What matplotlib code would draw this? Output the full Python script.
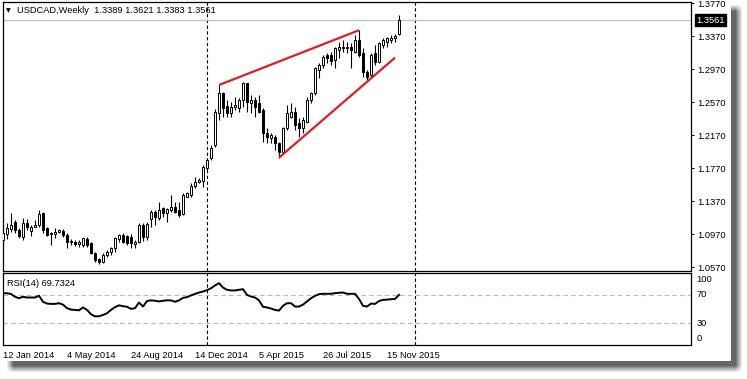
import matplotlib
matplotlib.use("Agg")
import matplotlib.pyplot as plt
import numpy as np
import pandas as pd
from matplotlib.transforms import blended_transform_factory

# ---------------- data ----------------
symbol_title = "USDCAD,Weekly  1.3389 1.3621 1.3383 1.3561"
rsi_title = "RSI(14) 69.7324"
start_week = "2014-01-12"

opens = [1.0897, 1.0975, 1.1025, 1.1120, 1.1018, 1.0938, 1.1107, 1.1010, 1.1060, 1.1079,
         1.1230, 1.1039, 1.0964, 1.0970, 1.0990, 1.1010, 1.0958, 1.0890, 1.0870, 1.0845,
         1.0837, 1.0905, 1.0864, 1.0736, 1.0663, 1.0634, 1.0715, 1.0750, 1.0797, 1.0905,
         1.0958, 1.0950, 1.0937, 1.0850, 1.0877, 1.1080, 1.0930, 1.1152, 1.1240, 1.1170,
         1.1281, 1.1220, 1.1261, 1.1301, 1.1261, 1.1215, 1.1422, 1.1443, 1.1552, 1.1604,
         1.1616, 1.1770, 1.1887, 1.2048, 1.2433, 1.2675, 1.2521, 1.2433, 1.2513, 1.2493,
         1.2594, 1.2796, 1.2554, 1.2594, 1.2554, 1.2473, 1.2190, 1.2130, 1.2150, 1.2069,
         1.1968, 1.2251, 1.2392, 1.2452, 1.2311, 1.2251, 1.2332, 1.2594, 1.2675, 1.2958,
         1.3018, 1.3140, 1.3140, 1.3079, 1.3200, 1.3240, 1.3221, 1.3240, 1.3180, 1.3321,
         1.3160, 1.2937, 1.2897, 1.3160, 1.3059, 1.3261, 1.3301, 1.3321, 1.3350, 1.3389]
highs = [1.0990, 1.1107, 1.1220, 1.1140, 1.1039, 1.1160, 1.1148, 1.1080, 1.1140, 1.1261,
         1.1240, 1.1050, 1.1000, 1.1043, 1.1030, 1.1030, 1.0979, 1.0905, 1.0897, 1.0897,
         1.0925, 1.0930, 1.0877, 1.0755, 1.0675, 1.0736, 1.0776, 1.0810, 1.0937, 1.0966,
         1.0982, 1.0958, 1.0966, 1.0897, 1.1100, 1.1100, 1.1110, 1.1261, 1.1261, 1.1362,
         1.1301, 1.1281, 1.1443, 1.1362, 1.1362, 1.1463, 1.1483, 1.1585, 1.1657, 1.1645,
         1.1806, 1.1887, 1.2048, 1.2480, 1.2776, 1.2695, 1.2594, 1.2574, 1.2634, 1.2614,
         1.2816, 1.2804, 1.2655, 1.2634, 1.2655, 1.2493, 1.2251, 1.2190, 1.2170, 1.2089,
         1.2271, 1.2533, 1.2554, 1.2513, 1.2372, 1.2392, 1.2634, 1.2695, 1.2998, 1.3039,
         1.3140, 1.3160, 1.3180, 1.3240, 1.3301, 1.3321, 1.3301, 1.3281, 1.3382, 1.3443,
         1.3221, 1.2958, 1.3160, 1.3261, 1.3301, 1.3342, 1.3362, 1.3382, 1.3391, 1.3621]
lows = [1.0816, 1.0905, 1.1000, 1.0979, 1.0918, 1.0897, 1.1018, 1.0946, 1.1050, 1.1059,
        1.0979, 1.0946, 1.0837, 1.0922, 1.0979, 1.0937, 1.0797, 1.0837, 1.0826, 1.0808,
        1.0816, 1.0816, 1.0728, 1.0634, 1.0606, 1.0614, 1.0695, 1.0720, 1.0755, 1.0877,
        1.0860, 1.0837, 1.0797, 1.0797, 1.0858, 1.0880, 1.0900, 1.1059, 1.1079, 1.1140,
        1.1180, 1.1119, 1.1240, 1.1220, 1.1180, 1.1200, 1.1420, 1.1422, 1.1524, 1.1585,
        1.1543, 1.1746, 1.1867, 1.2020, 1.2352, 1.2392, 1.2392, 1.2392, 1.2473, 1.2452,
        1.2513, 1.2452, 1.2433, 1.2392, 1.2433, 1.2089, 1.2069, 1.2069, 1.1988, 1.1887,
        1.1947, 1.2230, 1.2372, 1.2230, 1.2150, 1.2190, 1.2311, 1.2554, 1.2655, 1.2857,
        1.2978, 1.3039, 1.3018, 1.2978, 1.3099, 1.3180, 1.3160, 1.2978, 1.3160, 1.3119,
        1.2877, 1.2837, 1.2857, 1.3018, 1.3039, 1.3221, 1.3240, 1.3281, 1.3301, 1.3383]
closes = [1.0978, 1.1040, 1.1075, 1.1018, 1.0946, 1.1099, 1.1059, 1.1060, 1.1080, 1.1212,
          1.1018, 1.0958, 1.0988, 1.0999, 1.1018, 1.0958, 1.0877, 1.0870, 1.0850, 1.0877,
          1.0918, 1.0837, 1.0736, 1.0655, 1.0634, 1.0715, 1.0755, 1.0797, 1.0918, 1.0958,
          1.0877, 1.0858, 1.0858, 1.0870, 1.1080, 1.0930, 1.1090, 1.1240, 1.1180, 1.1261,
          1.1220, 1.1270, 1.1301, 1.1240, 1.1200, 1.1443, 1.1463, 1.1552, 1.1604, 1.1630,
          1.1786, 1.1867, 1.2008, 1.2452, 1.2675, 1.2493, 1.2433, 1.2513, 1.2533, 1.2594,
          1.2796, 1.2574, 1.2594, 1.2513, 1.2452, 1.2190, 1.2150, 1.2170, 1.2069, 1.1968,
          1.2251, 1.2433, 1.2452, 1.2291, 1.2251, 1.2352, 1.2594, 1.2675, 1.2978, 1.3018,
          1.3119, 1.3099, 1.3067, 1.3221, 1.3240, 1.3221, 1.3240, 1.3200, 1.3321, 1.3140,
          1.2937, 1.2877, 1.3140, 1.3059, 1.3281, 1.3321, 1.3350, 1.3350, 1.3374, 1.3561]
rsi = [72, 72, 71, 67, 65, 67, 66, 66, 66, 68.5,
       60, 57.5, 57, 57, 58, 56, 51, 49, 48.6, 48,
       52, 48.6, 42.5, 39.6, 39.6, 41.5, 43.9, 48.6, 52.4, 55,
       53.8, 53, 50, 51, 59, 53.3, 61, 62, 61.5, 60.4,
       61.5, 62, 62, 60, 62, 65.5, 66.5, 69, 71, 73,
       74.4, 76.3, 79, 82.9, 86.2, 80, 76.8, 75.9, 75.9, 76.8,
       77.7, 69.7, 67.3, 66, 62, 53, 52, 50.5, 48.6, 47.6,
       54.3, 58, 58, 53.3, 53.3, 56, 60.4, 65, 68.3, 70.7,
       71.2, 71.2, 71.2, 72.1, 72.6, 73, 71.2, 71.2, 71.2, 64,
       54.3, 53.3, 57.5, 57, 61, 62.7, 63, 63.6, 64, 69.7324]

price_ticks = [1.0570, 1.0970, 1.1370, 1.1770, 1.2170, 1.2570, 1.2970, 1.3370, 1.3770]
rsi_levels = [70, 30]
bid_price = 1.3561

# trend lines drawn by the analyst: (bar index, price)
trend_upper_idx = [54, 89]
trend_upper_price = [1.2776, 1.3440]
trend_lower_idx = [69, 98]
trend_lower_price = [1.1895, 1.3107]

date_label_every = 16
future_weeks = 4   # weeks after the last bar for the next yearly separator

# ---------------- figure ----------------
W, H = 747, 379
fig = plt.figure(figsize=(W / 100, H / 100), dpi=100)
fig.patch.set_facecolor("white")
FONT = ["Liberation Sans", "DejaVu Sans"]
FS = 6.7

def fx(px):
    return px / W

def fy(py):
    return 1 - py / H

# drop shadow of the terminal window
bg = fig.add_axes([0, 0, 1, 1], zorder=-10)
X, Y = np.meshgrid(np.arange(W) + 0.5, np.arange(H) + 0.5)
b = 7.0
sx = np.clip((739 - X) / b + 0.5, 0, 1) * np.clip((X - 10) / b + 0.5, 0, 1)
sy = np.clip((369 - Y) / b + 0.5, 0, 1) * np.clip((Y - 8) / b + 0.5, 0, 1)
shadow = 0.6 * sx * sy
shadow[(X < 731) & (Y < 361)] = 0
img = np.dstack([1 - shadow] * 3)
bg.imshow(img, extent=[0, W, H, 0], aspect="auto", interpolation="bilinear")
bg.set_xlim(0, W)
bg.set_ylim(H, 0)
bg.axis("off")

n = len(closes)
idx = np.arange(n)
dates = pd.date_range(start_week, periods=n + future_weeks, freq="W-SUN")

x_left_px, x_right_px = 2.5, 690.5
xl = ((x_left_px - 3) / 4, (x_right_px - 3) / 4)

main_top, main_bot = 2.0, 270.7
rsi_top, rsi_bot = 273.3, 344.5
ax = fig.add_axes([fx(x_left_px), fy(main_bot), fx(x_right_px) - fx(x_left_px), fy(main_top) - fy(main_bot)])
axr = fig.add_axes([fx(x_left_px), fy(rsi_bot), fx(x_right_px) - fx(x_left_px), fy(rsi_top) - fy(rsi_bot)])

# price scale: 0.04 per 33 px, 1.3770 at y=3
ppx = 0.04 / 33
ax.set_ylim(1.3770 - (main_bot - 3) * ppx, 1.3770 + (3 - main_top) * ppx)
ax.set_xlim(*xl)
axr.set_xlim(*xl)
axr.set_ylim(0, 100)

for a in (ax, axr):
    a.set_facecolor("white")
    for s in a.spines.values():
        s.set_linewidth(0.9)
        s.set_color("black")

# separators (first week of each year)
years = sorted(set(dates.year))
sep_idx = []
for yv in years[1:]:
    pos = np.where(dates.year == yv)[0]
    if len(pos):
        sep_idx.append(pos[0])
for a in (ax, axr):
    for s in sep_idx:
        a.axvline(s, color="black", lw=0.8, ls=(0, (3, 2.2)), zorder=1)

# bid line
ax.axhline(bid_price, color="#c0c0c0", lw=0.9, zorder=1)

# candles
o = np.array(opens); h = np.array(highs); l = np.array(lows); c = np.array(closes)
ax.vlines(idx, l, h, color="black", lw=0.8, zorder=3)
bull = c >= o
body_lo = np.minimum(o, c)
body_h = np.maximum(np.abs(c - o), 0.0002)
ax.bar(idx[bull], body_h[bull], bottom=body_lo[bull], width=0.72, color="white",
       edgecolor="black", linewidth=0.7, zorder=4)
ax.bar(idx[~bull], body_h[~bull], bottom=body_lo[~bull], width=0.72, color="black",
       edgecolor="black", linewidth=0.7, zorder=4)

# trend lines
ax.plot(trend_upper_idx, trend_upper_price, color="#dc1e1e", lw=1.6, zorder=5, solid_capstyle="butt")
ax.plot(trend_lower_idx, trend_lower_price, color="#dc1e1e", lw=1.6, zorder=5, solid_capstyle="butt")

# price axis
ax.yaxis.tick_right()
ax.set_yticks(price_ticks)
ax.set_yticklabels([f"{p:.4f}" for p in price_ticks])
ax.tick_params(axis="y", direction="out", length=2.5, width=0.7, pad=2.5, labelsize=FS)
ax.set_xticks([])
for t in ax.get_yticklabels():
    t.set_fontfamily(FONT)

# bid label
tr = blended_transform_factory(ax.transAxes, ax.transData)
ax.text(1.0085, bid_price, f"{bid_price:.4f}", transform=tr, color="white", fontsize=FS,
        family=FONT, va="center", ha="left", zorder=10,
        bbox=dict(boxstyle="square,pad=0.15", fc="black", ec="black"))

# titles
fig.text(fx(5.5), fy(10.5), "\u25BC", fontsize=4.5, family=["DejaVu Sans"], va="center", ha="left")
fig.text(fx(17), fy(10.5), symbol_title, fontsize=FS, family=FONT, va="center", ha="left")
fig.text(fx(7), fy(283), rsi_title, fontsize=FS, family=FONT, va="center", ha="left")

# RSI panel
for lv in rsi_levels:
    axr.axhline(lv, color="#b8b8b8", lw=0.8, ls=(0, (4, 3)), zorder=1)
axr.plot(idx, rsi, color="black", lw=1.4, zorder=3)
axr.set_yticks([])
trr = blended_transform_factory(axr.transAxes, axr.transData)
for lab, val in [("100", 91), ("70", 70), ("30", 30), ("0", 9)]:
    axr.text(1.0085, val, lab, transform=trr, fontsize=FS, family=FONT, va="center", ha="left")

# date labels
lab_idx = list(range(0, n, date_label_every))
axr.set_xticks(lab_idx)
axr.set_xticklabels([f"{dates[i].day} {dates[i].strftime('%b %Y')}" for i in lab_idx])
axr.tick_params(axis="x", length=0, pad=5, labelsize=FS)
for t in axr.get_xticklabels():
    t.set_fontfamily(FONT)
    t.set_ha("left")

fig.savefig("out.png", dpi=100, facecolor="white")
